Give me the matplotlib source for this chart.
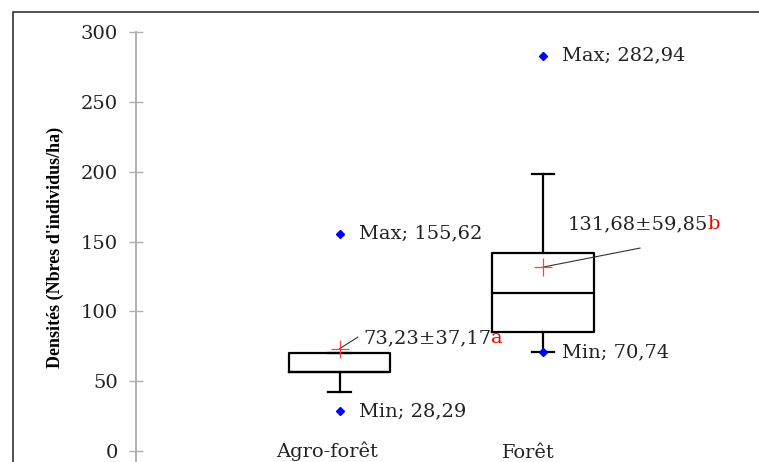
import matplotlib
matplotlib.use('Agg')
import matplotlib.pyplot as plt
from matplotlib.lines import Line2D

# values
categories = ['Agro-forêt', 'Forêt']
q1 = [56.3, 85.0]
medians = [56.3, 112.9]
q3 = [70.4, 141.5]
whisk_lo = [42.4, 70.74]
whisk_hi = [70.4, 198.3]
means = [73.23, 131.68]
sds = [37.17, 59.85]
mins = [28.29, 70.74]
maxs = [155.62, 282.94]
letters = ['a', 'b']
yticks = [0, 50, 100, 150, 200, 250, 300]

plt.rcParams['font.family'] = 'DejaVu Serif'
FS = 14

def fr(v):
    return f'{v:.2f}'.replace('.', ',')

fig = plt.figure(figsize=(7.59, 4.62), dpi=100)
ax = fig.add_axes([136/759, 0, 623/759, 430/462])

pos = list(range(1, len(categories) + 1))
stats = []
for i, c in enumerate(categories):
    stats.append(dict(label=c, q1=q1[i], med=medians[i], q3=q3[i],
                      whislo=whisk_lo[i], whishi=whisk_hi[i], mean=means[i]))

ax.bxp(stats, positions=pos, widths=0.5, capwidths=0.11, showmeans=True,
       showfliers=False,
       boxprops=dict(color='black', linewidth=1.6),
       medianprops=dict(color='black', linewidth=1.6),
       whiskerprops=dict(color='black', linewidth=1.6),
       capprops=dict(color='black', linewidth=1.6),
       meanprops=dict(marker='+', markeredgecolor='#ff4040', markersize=13,
                      markeredgewidth=0.9))

# min / max points
ax.plot(pos, mins, linestyle='none', marker='D', markersize=3.8, color='blue')
ax.plot(pos, maxs, linestyle='none', marker='D', markersize=3.8, color='blue')
for p, lo, hi in zip(pos, mins, maxs):
    ax.annotate(f'Min; {fr(lo)}', (p, lo), xytext=(14, 0), textcoords='offset points',
                va='center', fontsize=FS, color='#222222')
    ax.annotate(f'Max; {fr(hi)}', (p, hi), xytext=(14, 0), textcoords='offset points',
                va='center', fontsize=FS, color='#222222')

# mean ± sd labels with leader lines
label_pos = [(1.115, 81.0), (2.12, 162.5)]
line_end = [(1.09, 81.5), (2.477, 145.3)]
for p, m, s, let, lp, le in zip(pos, means, sds, letters, label_pos, line_end):
    ax.plot([p, le[0]], [m, le[1]], color='#333333', linewidth=0.8)
    t = ax.text(lp[0], lp[1], f'{fr(m)}±{fr(s)}', fontsize=FS, va='center',
                color='#222222')
    ax.annotate(let, xy=(1, 0), xycoords=t, va='bottom', ha='left',
                fontsize=FS, color='red')

# category labels at the bottom
ax.text(0.94, -0.3, categories[0], fontsize=FS, ha='center', va='center', color='#222222')
ax.text(1.93, -1.6, categories[1], fontsize=FS, ha='center', va='center', color='#222222')

ax.set_xlim(0, 623/203.5)
ax.set_ylim(-11/1.397, 300)
ax.set_xticks([])
ax.set_yticks(yticks)
ax.tick_params(axis='y', direction='inout', length=10, width=1, color='#b0b0b0',
               labelsize=FS, labelcolor='#222222', pad=8)
for side in ['top', 'right', 'bottom']:
    ax.spines[side].set_visible(False)
ax.spines['left'].set_color('#b0b0b0')
ax.spines['left'].set_linewidth(1.4)
ax.set_ylabel("Densités (Nbres d'individus/ha)", fontsize=13, fontweight='bold',
              family='Liberation Serif', labelpad=12)

# outer frame
x0 = 13/759
y0 = 1 - 12/462
fig.add_artist(Line2D([x0, x0, 1], [0, y0, y0], transform=fig.transFigure,
                      color='#333333', linewidth=1.2))

fig.savefig('out.png', dpi=100)
